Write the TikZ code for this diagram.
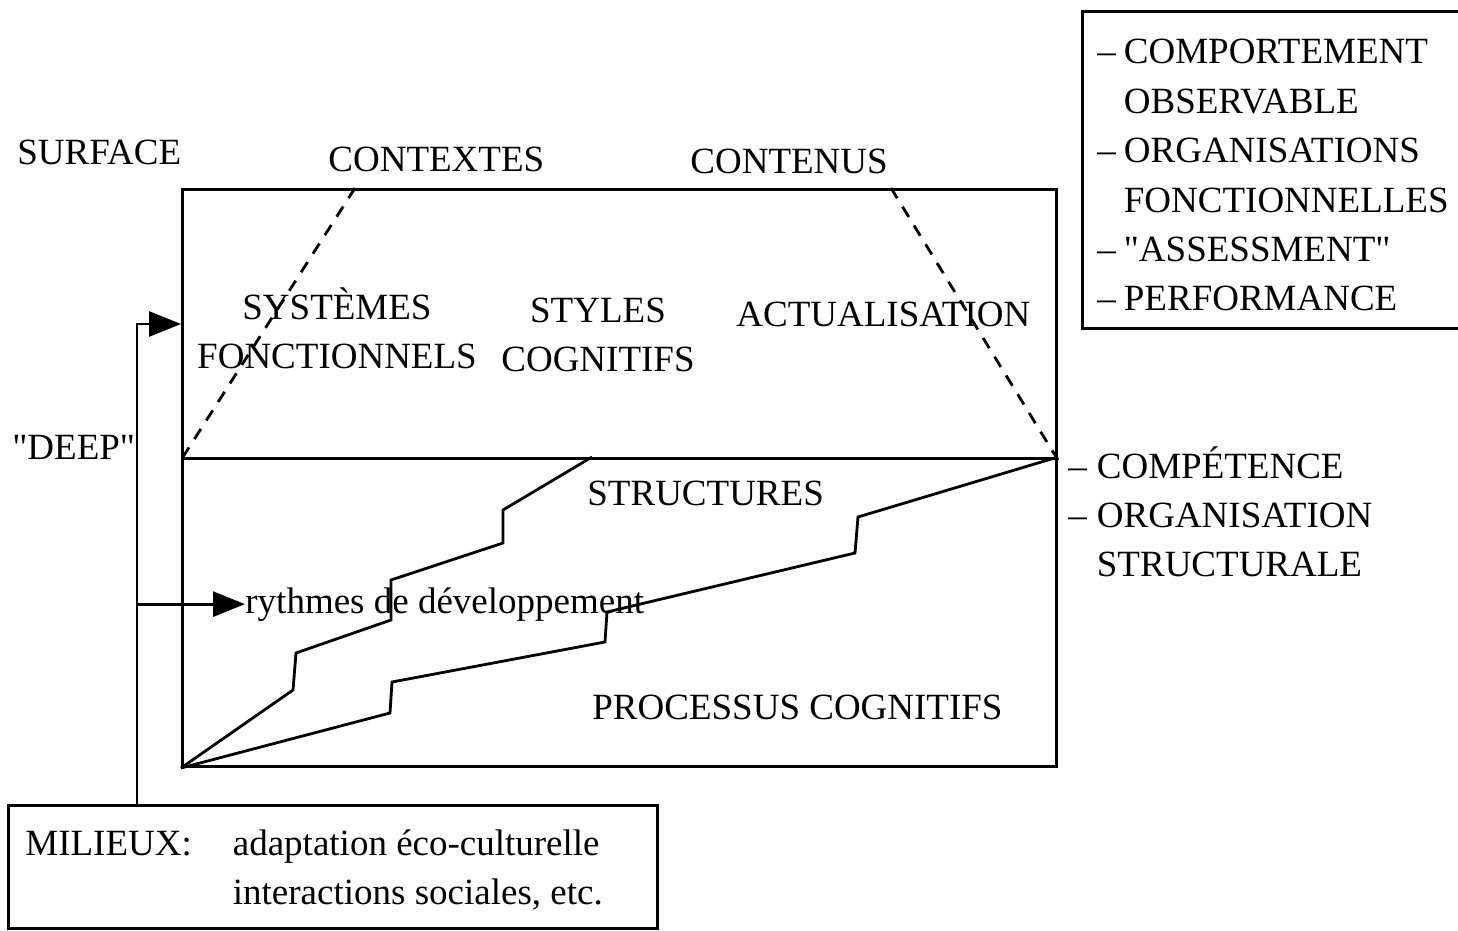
\documentclass[tikz,border=0pt]{standalone}
\usepackage{fontspec}
\setmainfont{Liberation Serif}
\usetikzlibrary{arrows.meta,positioning}
\tikzset{
  lbl/.style={inner sep=0pt, anchor=base west, font=\fontsize{18.5}{24.7}\selectfont},
  areabox/.style={draw, line width=1.5pt, inner sep=0pt, minimum width=437pt, anchor=north west},
  framebox/.style={line width=1.5pt},
  flow/.style={-{Triangle[length=16pt, width=12.5pt]}, line width=1.4pt},
  dashedline/.style={line width=1.4pt, dash pattern=on 6pt off 5pt},
  stepline/.style={line width=1.4pt, line join=miter}
}

\begin{document}
\begin{tikzpicture}[x=0.5pt, y=-0.5pt]
\useasboundingbox (0,0) rectangle (1458,931);
\clip (0,0) rectangle (1458,931);

% the two layers
\node[areabox, minimum height=134.5pt] (surfbox) at (181,188) {};
\node[areabox, minimum height=154pt] (deepbox) at (181,457) {};

% labels outside
\node[lbl] (surface) at (17,165) {SURFACE};
\node[lbl] (contextes) at (328,172) {CONTEXTES};
\node[lbl] (contenus) at (690,174) {CONTENUS};
\node[lbl] (deep) at (12,459) {\textquotedbl DEEP\textquotedbl};

% labels inside
\node[lbl, anchor=base] (systemes) at (337,319) {\begin{tabular}[t]{@{}c@{}}SYSTÈMES\\FONCTIONNELS\end{tabular}};
\node[lbl, anchor=base] (styles) at (598,322) {\begin{tabular}[t]{@{}c@{}}STYLES\\COGNITIFS\end{tabular}};
\node[lbl] (actual) at (736,326) {ACTUALISATION};
\node[lbl] (structures) at (587,505) {STRUCTURES};
\node[lbl] (rythmes) at (245,613) {rythmes de développement};
\node[lbl] (processus) at (592,719) {PROCESSUS COGNITIFS};

% lists on the right
\draw[framebox] (1082,12) rectangle (1470,328);
\node[lbl] (observ) at (1097,64) {\begin{tabular}[t]{@{}l@{\hspace{4pt}}l@{}}
  -- & COMPORTEMENT\\ & OBSERVABLE\\
  -- & ORGANISATIONS\\ & FONCTIONNELLES\\
  -- & \textquotedbl ASSESSMENT\textquotedbl\\
  -- & PERFORMANCE\end{tabular}};
\node[lbl] (competence) at (1068,478) {\begin{tabular}[t]{@{}l@{\hspace{5pt}}l@{}}
  -- & COMPÉTENCE\\
  -- & ORGANISATION\\ & STRUCTURALE\end{tabular}};

% milieux
\draw[framebox] (8,805) rectangle (657,928);
\node[lbl] (milieux) at (25,855) {\begin{tabular}[t]{@{}l@{\hspace{20.5pt}}l@{}}
  MILIEUX: & adaptation éco-culturelle\\ & interactions sociales, etc.\end{tabular}};
\coordinate (src) at (137,805);

% connectors
\draw[flow] (src) |- (surfbox.west);
\draw[flow] (src |- rythmes.west) -- (rythmes.west);
\draw[dashedline] ([xshift=87pt]surfbox.north west) -- (surfbox.south west);
\draw[dashedline] ([xshift=-83.5pt]surfbox.north east) -- (surfbox.south east);
\draw[stepline] (deepbox.south west) -- (293,690) -- (296,653) -- (391,620) -- (391,580)
  -- (503,543) -- (503,510) -- (592,457);
\draw[stepline] (deepbox.south west) -- (390,713) -- (392,682) -- (605,642) -- (607,612)
  -- (855,553) -- (858,517) -- (deepbox.north east);
\end{tikzpicture}
\end{document}
